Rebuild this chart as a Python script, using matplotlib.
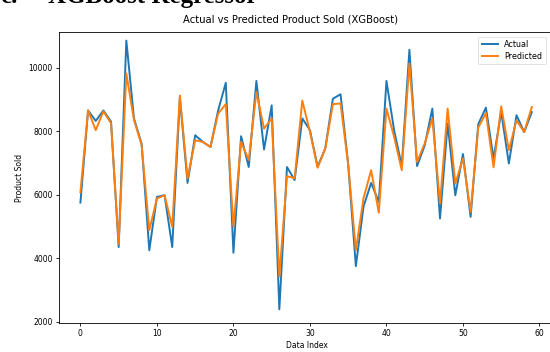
import matplotlib
matplotlib.use("Agg")
import matplotlib.pyplot as plt
import numpy as np

actual = [5750, 8650, 8320, 8650, 8300, 4350, 10850, 8400, 7600, 4250,
          5930, 5980, 4350, 9050, 6370, 7870, 7660, 7500, 8650, 9520,
          4170, 7840, 6870, 9580, 7420, 8810, 2390, 6870, 6460, 8400,
          8030, 6880, 7450, 9020, 9160, 6950, 3750, 5620, 6370, 5770,
          9580, 8030, 6900, 10560, 6900, 7550, 8710, 5250, 8240, 5980,
          7280, 5300, 8220, 8740, 7140, 8600, 6980, 8500, 7970, 8600]
predicted = [6080, 8650, 8030, 8620, 8250, 4450, 9810, 8350, 7560, 4880,
             5880, 5980, 4990, 9120, 6510, 7710, 7660, 7500, 8550, 8850,
             4990, 7660, 7090, 9230, 8080, 8400, 3420, 6580, 6520, 8960,
             7980, 6850, 7450, 8850, 8870, 6950, 4250, 5880, 6770, 5430,
             8710, 7820, 6770, 10130, 7030, 7610, 8400, 5720, 8710, 6350,
             7140, 5460, 8110, 8570, 6860, 8780, 7400, 8340, 7970, 8760]

x = np.arange(len(actual))

fig = plt.figure(figsize=(5.5, 3.52), dpi=100)
ax = fig.add_axes([59/550, 1-323/352, (554-59)/550, (323-32)/352])
ax.plot(x, actual, color='#1f77b4', lw=1.4, label='Actual')
ax.plot(x, predicted, color='#ff7f0e', lw=1.4, label='Predicted')
ax.set_xlim(-2.8, 61.9)
ax.set_ylim(1960, 11120)
ax.set_title('Actual vs Predicted Product Sold (XGBoost)', fontsize=7.2, pad=7,
             x=0.468)
ax.set_xlabel('Data Index', fontsize=5.5, labelpad=2)
ax.set_ylabel('Product Sold', fontsize=5.5, labelpad=3)
ax.tick_params(labelsize=5.5, length=2.5, width=0.6, pad=2)
for s in ax.spines.values():
    s.set_linewidth(0.6)
ax.set_xticks([0, 10, 20, 30, 40, 50, 60])
ax.set_yticks([2000, 4000, 6000, 8000, 10000])
leg = ax.legend(loc='upper right', fontsize=5.8, bbox_to_anchor=(0.992, 0.998),
                handlelength=2.0, borderpad=0.45, labelspacing=0.3)
leg.get_frame().set_linewidth(0.5)

fig.text(0.0, 0.992, 'c.', family='Liberation Serif',
         weight='bold', fontsize=18, va='baseline', ha='left')
fig.text(48/550, 0.992, 'XGBoost Regressor', family='Liberation Serif',
         weight='bold', fontsize=18, va='baseline', ha='left')

fig.savefig('out.png', dpi=100)
